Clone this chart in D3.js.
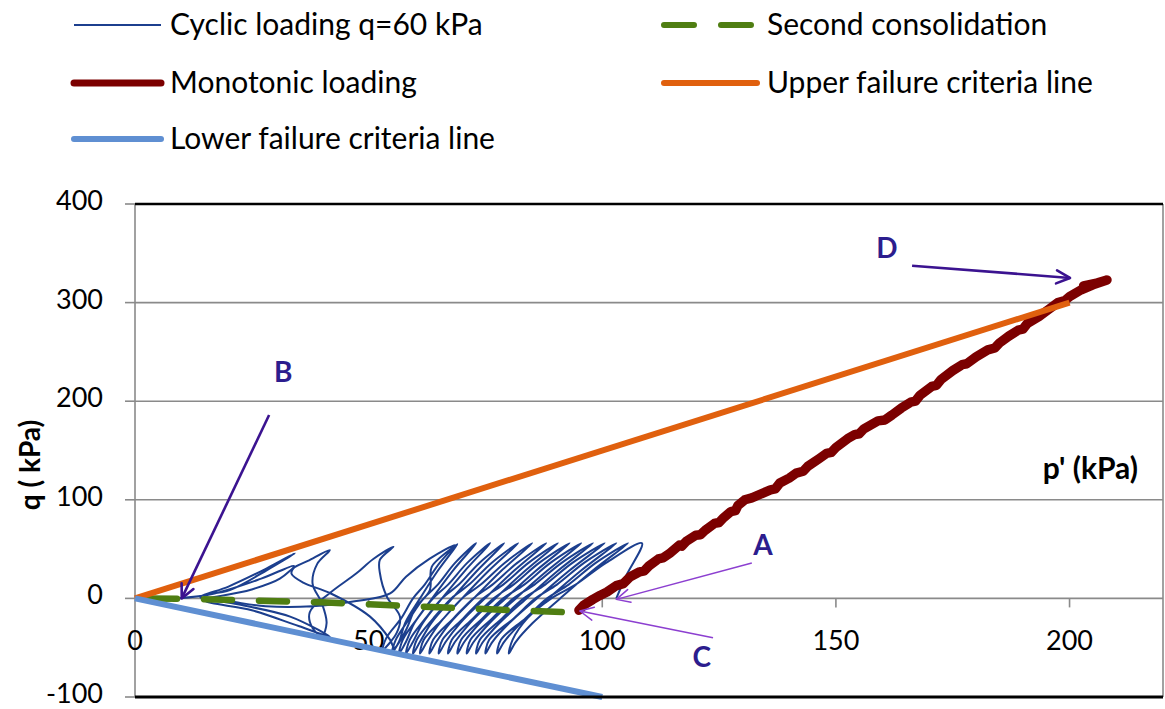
<!DOCTYPE html>
<html>
<head>
<meta charset="utf-8">
<script src="https://cdn.jsdelivr.net/npm/d3@7"></script>
<style>
  html, body { margin: 0; padding: 0; background: #fff; }
  svg { display: block; }
  text { font-family: Lato, "Open Sans", sans-serif; fill: #000; }
</style>
</head>
<body>
<div id="chart"></div>
<script>
// ------- data (p', q in kPa) -------
const pDomain = [0, 220];
const qDomain = [-100, 400];
const xTicks = [0, 50, 100, 150, 200];
const yTicks = [-100, 0, 100, 200, 300, 400];
const gridQ = [100, 200, 300];

// cyclic loading path: one line per half cycle
const cyclicPath = [
  [103, 0], [105, 22], [108.5, 56],
  [100.8, 36], [94.3, 14], [89.1, 0], [84, -20], [80.8, -42], [80, -56],
  [81.5, -44], [85.1, -25], [91, 0], [97.9, 28], [105.5, 56],
  [98.6, 36], [92.8, 14], [88.2, 0], [83.6, -20], [78.3, -42], [77.5, -56],
  [79, -44], [82.6, -25], [88.5, 0], [95.4, 28], [103, 56],
  [96.1, 36], [90.3, 14], [85.7, 0], [81.1, -20], [75.8, -42], [75, -56],
  [76.5, -44], [80.1, -25], [86, 0], [92.9, 28], [100.5, 56],
  [93.6, 36], [87.8, 14], [83.2, 0], [78.6, -20], [73.8, -42], [73, -56],
  [74.5, -44], [78, -25], [83.8, 0], [90.5, 28], [98, 56],
  [91.3, 36], [85.5, 14], [81, 0], [76.5, -20], [71.8, -42], [71, -56],
  [72.5, -44], [75.9, -25], [81.5, 0], [88.2, 28], [95.5, 56],
  [88.9, 36], [83.3, 14], [78.8, 0], [74.4, -20], [69.8, -42], [69, -56],
  [70.5, -44], [73.8, -25], [79.3, 0], [85.8, 28], [93, 56],
  [86.5, 36], [81, 14], [76.7, 0], [72.4, -20], [67.8, -42], [67, -56],
  [68.5, -44], [71.7, -25], [77.1, 0], [83.5, 28], [90.5, 56],
  [84.2, 36], [78.8, 14], [74.5, 0], [70.3, -20], [65.8, -42], [65, -56],
  [66.5, -44], [69.6, -25], [74.9, 0], [81.1, 28], [88, 56],
  [81.8, 36], [76.5, 14], [72.4, 0], [68.2, -20], [63.8, -42], [63, -56],
  [64.5, -44], [67.4, -25], [72.5, 0], [78.4, 28], [85, 56],
  [79.1, 36], [74, 14], [70, 0], [66.1, -20], [61.8, -42], [61, -56],
  [62.5, -44], [65.2, -25], [70, 0], [75.7, 28], [82, 56],
  [76.3, 36], [71.5, 14], [67.7, 0], [63.9, -20], [60.3, -42], [59.5, -56],
  [61, -44], [63.4, -25], [67.9, 0], [73.2, 28], [79, 56],
  [73.7, 36], [69.3, 14], [65.7, 0], [62.2, -20], [58.8, -42], [58, -56],
  [59.5, -44], [61.6, -25], [65.7, 0], [70.6, 28], [76, 56],
  [71.1, 36], [67, 14], [63.8, 0], [60.5, -20], [57.3, -42], [56.5, -56],
  [58, -44], [59.8, -25], [63.6, 0], [68, 28], [73, 56],
  [68.5, 36], [64.8, 14], [61.8, 0], [58.8, -20], [55.8, -42], [55, -55],
  [56.5, -44], [57.8, -25], [61, 0], [64.8, 28], [69, 55],
  [65.2, 36], [62, 14], [59.5, 0], [57, -20], [53.8, -40], [53, -52],
  // towards liquefaction: wider, crossing loops
  [56, -35], [56.7, -18.5], [53.9, 1.7], [52.4, 26], [52.4, 39], [55.3, 52.4],
  [51, 40], [47.4, 25.5], [41.7, 5.5], [37.4, -14], [38, -30], [40, -38],
  [41, -25], [40, -5], [38, 15], [39, 35], [41.7, 49],
  [37, 38], [33.9, 30.5], [33.5, 25],
  [36, 16], [41.7, 5.5], [50.3, -18.5], [54.6, -42], [55.5, -50],
  [58, -32], [60, -10], [63.1, 8.5], [63.5, 32], [68.5, 54],
  [63, 40], [58, 22], [54.6, 5], [47, -3], [38, -8], [28, -8], [20.3, -3], [14, 1],
  [20, 12], [28, 30], [34.2, 45.7],
  [28, 28], [20.3, 8.5], [14, 2],
  [22, -6], [33.2, -18.5], [41.7, -39],
  [35, -28], [25, -12], [15, -2],
  [24.6, 8.5], [31, 20], [34, 33], [27, 20], [17, 5], [9, 0]
];

const secondConsolidation = [[0, 0], [12, -0.5], [40, -4], [65, -9], [92, -14]];

const monotonic = [
  [95, -12], [96, -7], [98, -1], [99.5, 3], [101, 6.5], [103, 13], [104.5, 15], [106, 22],
  [108, 27], [109, 28], [110, 33], [112, 40], [113, 41], [114.5, 46], [116.5, 54], [117, 53],
  [118, 58], [120, 64], [121, 64.5], [122, 69], [124, 76], [125, 77], [126, 82], [127.5, 88],
  [128.5, 89], [129, 94], [130.5, 100], [132, 102], [133, 104], [136, 110], [137, 111],
  [138, 117], [140, 122], [141.5, 127], [143, 129], [144, 134], [146.5, 142], [148, 147],
  [149, 148], [150, 153], [152.5, 162], [154, 166], [155, 167], [156, 172], [159, 180],
  [160.5, 181], [162, 186], [164, 193], [166, 199], [167, 200], [168, 206], [170.5, 215],
  [171.5, 216], [172.5, 222], [175, 231], [177, 237], [178, 238], [180, 245], [182.5, 252],
  [184, 254], [185, 259], [187, 266], [189, 272], [190, 273], [191, 279], [193.5, 286],
  [195.5, 293], [197.5, 300], [199, 302], [200, 306], [202.5, 313], [205, 318], [208, 323],
  [206, 320], [203, 317]
];

const upperLine = [[0, 0], [200, 300]];
const lowerLine = [[0, 0], [100, -100]];

// annotations: label position, arrow start, arrow tip (data units)
const annLabels = ["B", "A", "C", "D"];
const annText = [[31.7, 230], [134.4, 54], [121.3, -59], [160.9, 355.6]];
const annFrom = [[28.7, 186], [132, 36], [123.7, -40], [166.3, 337.4]];
const annTo = [[10, 0], [103, -1], [95.2, -12.8], [200.1, 325]];
const annHeavy = [true, false, false, true];

const legendNames = [
  "Cyclic loading q=60 kPa", "Second consolidation",
  "Monotonic loading", "Upper failure criteria line",
  "Lower failure criteria line"
];

// ------- chart -------
const W = 1165, H = 709;
const svg = d3.select("#chart").append("svg").attr("width", W).attr("height", H);

const x = d3.scaleLinear().domain(pDomain).range([135, 1163]);
const y = d3.scaleLinear().domain(qDomain).range([697, 204]);

const GRID = "#8a8a8a";

// gridlines
svg.append("g").selectAll("line").data(gridQ).join("line")
  .attr("x1", x(0)).attr("x2", x(pDomain[1]))
  .attr("y1", d => y(d)).attr("y2", d => y(d))
  .attr("stroke", GRID).attr("stroke-width", 1.6);

// x axis line at q = 0 with ticks below
svg.append("line")
  .attr("x1", x(0)).attr("x2", x(pDomain[1]))
  .attr("y1", y(0)).attr("y2", y(0))
  .attr("stroke", GRID).attr("stroke-width", 1.6);
svg.append("g").selectAll("line").data(xTicks.slice(1)).join("line")
  .attr("x1", d => x(d)).attr("x2", d => x(d))
  .attr("y1", y(0)).attr("y2", y(0) + 9)
  .attr("stroke", GRID).attr("stroke-width", 1.6);

// y axis line with ticks
svg.append("line")
  .attr("x1", x(0)).attr("x2", x(0))
  .attr("y1", y(qDomain[0])).attr("y2", y(qDomain[1]))
  .attr("stroke", GRID).attr("stroke-width", 1.6);
svg.append("g").selectAll("line").data(yTicks).join("line")
  .attr("x1", x(0) - 10).attr("x2", x(0))
  .attr("y1", d => y(d)).attr("y2", d => y(d))
  .attr("stroke", GRID).attr("stroke-width", 1.6);

// right border
svg.append("line")
  .attr("x1", x(pDomain[1])).attr("x2", x(pDomain[1]))
  .attr("y1", y(qDomain[0])).attr("y2", y(qDomain[1]))
  .attr("stroke", GRID).attr("stroke-width", 1.6);

// tick labels
svg.append("g").selectAll("text").data(yTicks).join("text")
  .attr("x", 103).attr("y", d => y(d) + 6)
  .attr("text-anchor", "end")
  .style("font-size", "27px")
  .text(d => d);

svg.append("g").selectAll("text").data(xTicks).join("text")
  .attr("x", d => x(d)).attr("y", 650)
  .attr("text-anchor", "middle")
  .style("font-size", "27px")
  .text(d => d);

// axis titles
svg.append("text")
  .attr("transform", `translate(40,${465}) rotate(-90)`)
  .attr("text-anchor", "middle")
  .style("font-size", "28px").style("font-weight", "bold")
  .text("q ( kPa)");

svg.append("text")
  .attr("x", 1138).attr("y", 479)
  .attr("text-anchor", "end")
  .style("font-size", "30px").style("font-weight", "bold")
  .text("p' (kPa)");

// series
const line = d3.line().x(d => x(d[0])).y(d => y(d[1]));
const smooth = d3.line().x(d => x(d[0])).y(d => y(d[1])).curve(d3.curveCatmullRom.alpha(0.5));

const COL = {
  cyclic: "#1c3f8e",
  second: "#4f7e12",
  mono: "#7c0000",
  upper: "#e0600e",
  lower: "#5f8fd2"
};

svg.append("path").datum(cyclicPath)
  .attr("d", smooth).attr("fill", "none")
  .attr("stroke", COL.cyclic).attr("stroke-width", 2)
  .attr("stroke-linejoin", "round");

svg.append("path").datum(secondConsolidation)
  .attr("d", line).attr("fill", "none")
  .attr("stroke", COL.second).attr("stroke-width", 6.5)
  .attr("stroke-dasharray", "28,27").attr("stroke-dashoffset", -14)
  .attr("stroke-linecap", "round");

svg.append("path").datum(monotonic)
  .attr("d", line).attr("fill", "none")
  .attr("stroke", COL.mono).attr("stroke-width", 9.5)
  .attr("stroke-linejoin", "round").attr("stroke-linecap", "round");

svg.append("path").datum(upperLine)
  .attr("d", line).attr("fill", "none")
  .attr("stroke", COL.upper).attr("stroke-width", 6);

svg.append("path").datum(lowerLine)
  .attr("d", line).attr("fill", "none")
  .attr("stroke", COL.lower).attr("stroke-width", 6);

// top & bottom plot borders (drawn black)
[qDomain[1], qDomain[0]].forEach((q, i) => {
  svg.append("line")
    .attr("x1", x(0)).attr("x2", x(pDomain[1]))
    .attr("y1", y(q)).attr("y2", y(q))
    .attr("stroke", "#000").attr("stroke-width", i ? 3 : 2.5);
});

// annotations
annLabels.forEach((lab, i) => {
  const [x0, y0] = [x(annFrom[i][0]), y(annFrom[i][1])];
  const [x1, y1] = [x(annTo[i][0]), y(annTo[i][1])];
  const col = annHeavy[i] ? "#3b1390" : "#8c3fd0";
  const sw = annHeavy[i] ? 2.6 : 1.5;
  svg.append("line")
    .attr("x1", x0).attr("y1", y0).attr("x2", x1).attr("y2", y1)
    .attr("stroke", col).attr("stroke-width", sw);
  // open arrow head
  const ang = Math.atan2(y1 - y0, x1 - x0);
  const L = 15, spread = 0.45;
  const pts = [
    [x1 - L * Math.cos(ang - spread), y1 - L * Math.sin(ang - spread)],
    [x1, y1],
    [x1 - L * Math.cos(ang + spread), y1 - L * Math.sin(ang + spread)]
  ];
  svg.append("polyline")
    .attr("points", pts.map(p => p.join(",")).join(" "))
    .attr("fill", "none").attr("stroke", col).attr("stroke-width", sw)
    .attr("stroke-linejoin", "round").attr("stroke-linecap", "round");
  svg.append("text")
    .attr("x", x(annText[i][0])).attr("y", y(annText[i][1]) + 10)
    .attr("text-anchor", "middle")
    .style("font-size", "28px").style("font-weight", "bold")
    .style("fill", "#2c1d8e")
    .text(lab);
});

// legend
const legCols = [74, 664];
const legRows = [25, 83, 139];
const legItems = [
  { name: legendNames[0], col: 0, row: 0, stroke: COL.cyclic, w: 2, dash: null },
  { name: legendNames[1], col: 1, row: 0, stroke: COL.second, w: 6, dash: "30,27" },
  { name: legendNames[2], col: 0, row: 1, stroke: COL.mono, w: 7, dash: null },
  { name: legendNames[3], col: 1, row: 1, stroke: COL.upper, w: 6, dash: null },
  { name: legendNames[4], col: 0, row: 2, stroke: COL.lower, w: 6, dash: null }
];
const leg = svg.append("g");
legItems.forEach(it => {
  const lx = legCols[it.col], ly = legRows[it.row];
  leg.append("line")
    .attr("x1", lx).attr("x2", lx + (it.col ? 93 : 87))
    .attr("y1", ly).attr("y2", ly)
    .attr("stroke", it.stroke).attr("stroke-width", it.w)
    .attr("stroke-linecap", it.w > 3 ? "round" : "butt")
    .attr("stroke-dasharray", it.dash);
  leg.append("text")
    .attr("x", lx + (it.col ? 103 : 96)).attr("y", ly + 10)
    .style("font-size", "30px")
    .text(it.name);
});
</script>
</body>
</html>
